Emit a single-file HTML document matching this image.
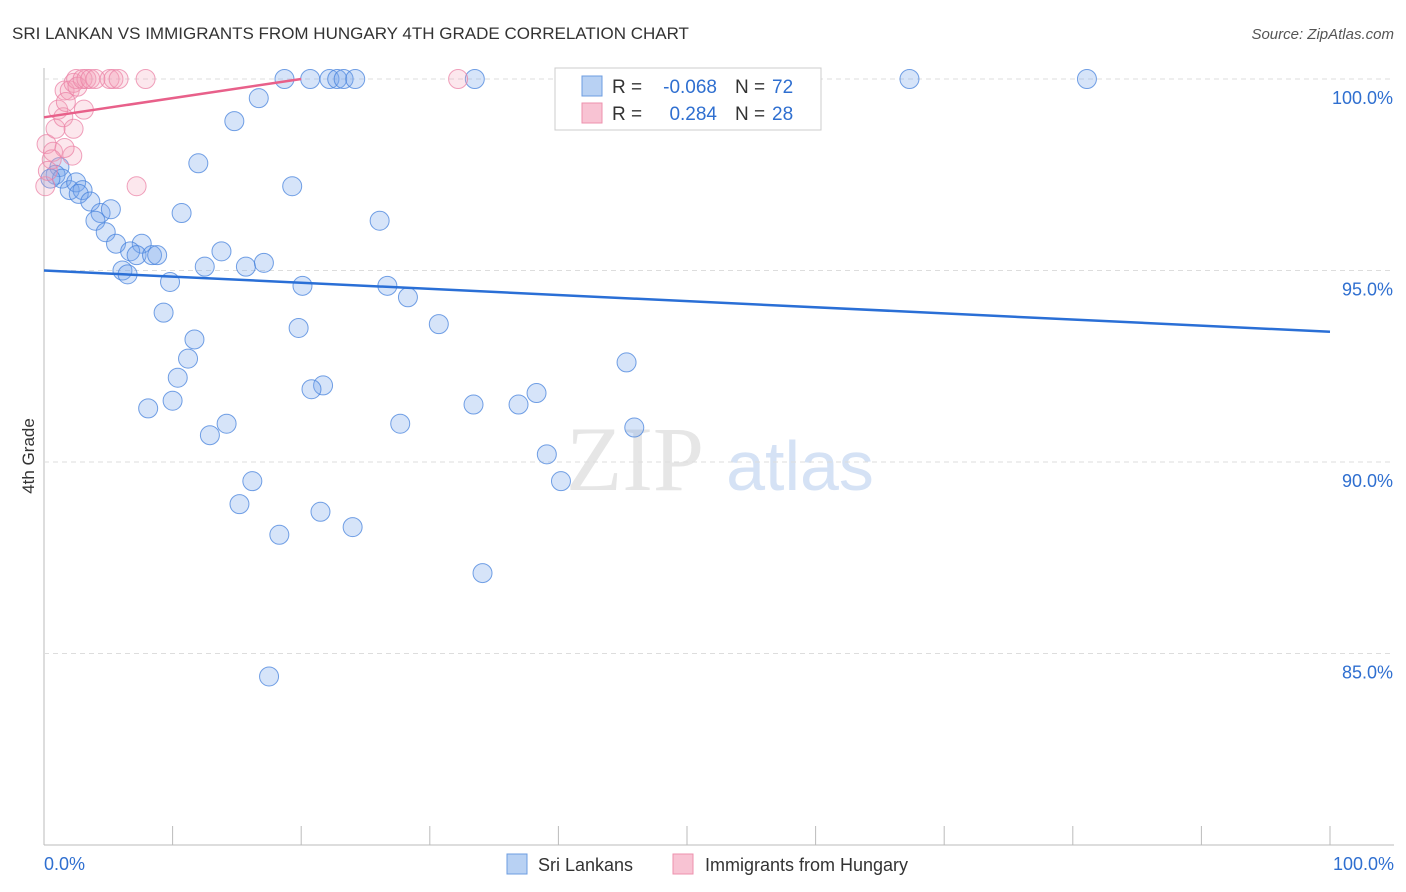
<!DOCTYPE html>
<html><head><meta charset="utf-8"><style>
body{margin:0;background:#fff;font-family:"Liberation Sans",sans-serif;}
</style></head><body>
<svg id="c" width="1406" height="892" style="display:block">
<text x="12" y="39" font-size="17" fill="#333">SRI LANKAN VS IMMIGRANTS FROM HUNGARY 4TH GRADE CORRELATION CHART</text>
<text x="1394" y="39" font-size="15" fill="#555" font-style="italic" text-anchor="end">Source: ZipAtlas.com</text>
<text x="34" y="456" font-size="17" fill="#333" text-anchor="middle" transform="rotate(-90 34 456)">4th Grade</text>
<text x="635" y="490" font-size="92" fill="#e6e6e6" font-family="Liberation Serif,serif" text-anchor="middle">ZIP</text>
<text x="800" y="490" font-size="70" fill="#d5e2f5" text-anchor="middle">atlas</text>
<g id="grid"></g><g id="pts"></g><g id="lines"></g>
<g>
<rect x="555" y="68" width="266" height="62" fill="#fff" stroke="#ccc"/>
<rect x="582" y="76" width="20" height="20" fill="#b8d1f3" stroke="#6d9de0"/>
<rect x="582" y="103" width="20" height="20" fill="#f8c3d3" stroke="#ee90ae"/>
<text x="612" y="93" font-size="19" fill="#333">R =</text><text x="717" y="93" font-size="19" fill="#2f6fd0" text-anchor="end">-0.068</text>
<text x="735" y="93" font-size="19" fill="#333">N =</text><text x="772" y="93" font-size="19" fill="#2f6fd0">72</text>
<text x="612" y="120" font-size="19" fill="#333">R =</text><text x="717" y="120" font-size="19" fill="#2f6fd0" text-anchor="end">0.284</text>
<text x="735" y="120" font-size="19" fill="#333">N =</text><text x="772" y="120" font-size="19" fill="#2f6fd0">28</text>
</g>
<g>
<rect x="507" y="854" width="20" height="20" fill="#b8d1f3" stroke="#6d9de0"/>
<text x="538" y="871" font-size="18" fill="#333">Sri Lankans</text>
<rect x="673" y="854" width="20" height="20" fill="#f8c3d3" stroke="#ee90ae"/>
<text x="705" y="871" font-size="18" fill="#333">Immigrants from Hungary</text>
</g>
<text x="44" y="870" font-size="18" fill="#2f6fd0">0.0%</text>
<text x="1394" y="870" font-size="18" fill="#2f6fd0" text-anchor="end">100.0%</text>
</svg>
<script>
const yTicks=[100,95,90,85];
const blueX=[18.7,20.7,22.2,22.8,23.3,24.2,33.5,41.7,67.3,81.1,16.7,14.8,12.0,19.3,10.7,26.1,1.2,0.9,1.4,2.0,2.5,3.0,2.7,3.6,4.4,5.2,4.0,4.8,5.6,7.6,6.7,7.2,8.4,8.8,13.8,12.5,15.7,17.1,6.1,6.5,9.8,20.1,26.7,28.3,9.3,19.8,30.7,11.7,11.2,45.3,10.4,21.7,20.8,8.1,10.0,33.4,36.9,38.3,14.2,12.9,27.7,45.9,39.1,40.2,16.2,15.2,21.5,24.0,18.3,34.1,17.5,0.5];
const blueY=[100,100,100,100,100,100,100,100,100,100,99.5,98.9,97.8,97.2,96.5,96.3,97.7,97.5,97.4,97.1,97.3,97.1,97.0,96.8,96.5,96.6,96.3,96.0,95.7,95.7,95.5,95.4,95.4,95.4,95.5,95.1,95.1,95.2,95.0,94.9,94.7,94.6,94.6,94.3,93.9,93.5,93.6,93.2,92.7,92.6,92.2,92.0,91.9,91.4,91.6,91.5,91.5,91.8,91.0,90.7,91.0,90.9,90.2,89.5,89.5,88.9,88.7,88.3,88.1,87.1,84.4,97.4];
const pinkX=[0.2,0.7,0.9,1.1,1.5,1.6,2.0,2.3,2.5,2.6,3.0,3.3,3.6,4.0,5.1,5.4,5.8,7.9,32.2,3.1,2.3,2.2,1.6,7.2,0.1,0.6,0.3,1.7];
const pinkY=[98.3,98.1,98.7,99.2,99.0,99.7,99.7,99.9,100,99.8,100,100,100,100,100,100,100,100,100,99.2,98.7,98.0,98.2,97.2,97.2,97.9,97.6,99.4];
const blueTrend=[95.0,93.4];
const pinkTrend=[99.0,100.0];
const X=v=>44+v*12.86, Y=v=>79+(100-v)*38.3;
const NS="http://www.w3.org/2000/svg";
function mk(t,a,p){const e=document.createElementNS(NS,t);for(const k in a)e.setAttribute(k,a[k]);p.appendChild(e);return e;}
const grid=document.getElementById('grid');
mk('line',{x1:44,y1:68,x2:44,y2:845,stroke:'#bbb'},grid);
mk('line',{x1:44,y1:845,x2:1394,y2:845,stroke:'#bbb'},grid);
for(let i=0;i<=10;i++){const l=mk('line',{x1:X(i*10),y1:826,x2:X(i*10),y2:845,stroke:'#bbb'},grid);

}
yTicks.forEach(t=>{const l=mk('line',{x1:44,y1:Y(t),x2:1394,y2:Y(t),stroke:'#ddd','stroke-dasharray':'5,4'},grid);


const tx=mk('text',{x:1393,y:Y(t)+25,'font-size':18,fill:'#2f6fd0','text-anchor':'end'},grid);tx.textContent=t.toFixed(1)+'%';

});
const pts=document.getElementById('pts');
blueX.forEach((v,i)=>{const c=mk('circle',{cx:X(v),cy:Y(blueY[i]),r:9.5,fill:'rgba(120,165,235,0.3)',stroke:'rgba(70,130,220,0.75)','stroke-width':1},pts);

});
pinkX.forEach((v,i)=>{const c=mk('circle',{cx:X(v),cy:Y(pinkY[i]),r:9.5,fill:'rgba(245,160,185,0.25)',stroke:'rgba(235,130,165,0.75)','stroke-width':1},pts);

});
const lines=document.getElementById('lines');
const b=mk('line',{x1:X(0),y1:Y(blueTrend[0]),x2:X(100),y2:Y(blueTrend[1]),stroke:'#2a6fd6','stroke-width':2.5},lines);


const p=mk('line',{x1:X(0),y1:Y(pinkTrend[0]),x2:X(20),y2:Y(pinkTrend[1]),stroke:'#e8608a','stroke-width':2.5},lines);


</script>
</body></html>
